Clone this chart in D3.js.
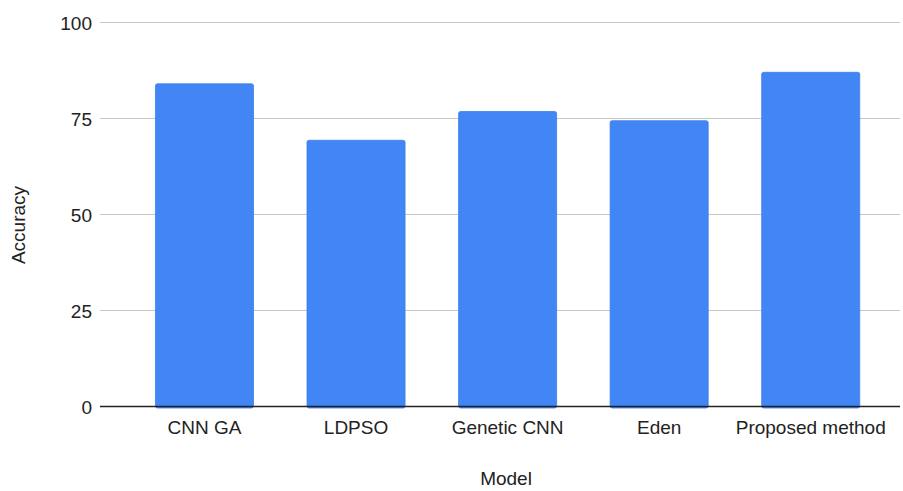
<!DOCTYPE html>
<html>
<head>
<meta charset="utf-8">
<script src="https://cdn.jsdelivr.net/npm/d3@7"></script>
<style>
  html, body { margin: 0; padding: 0; background: #fff; }
  svg { display: block; font-family: "Liberation Sans", Arial, sans-serif; }
</style>
</head>
<body>
<svg id="chart" width="903" height="491"></svg>
<script>
// Model accuracy comparison
const models = ["CNN GA", "LDPSO", "Genetic CNN", "Eden", "Proposed method"];
const accuracy = [83.9, 69.2, 76.7, 74.3, 86.9];
const yTicks = [0, 25, 50, 75, 100];

const svg = d3.select("#chart");
const fontSize = 19;

const gridLeft = 100, gridRight = 900;
const y = d3.scaleLinear().domain([0, 100]).range([406, 22]);
const x = d3.scaleBand()
  .domain(models)
  .range([128.7, 886.5])
  .paddingInner(0.353)
  .paddingOuter(0.1765);

// horizontal gridlines
svg.append("g")
  .selectAll("line")
  .data(yTicks.filter(t => t !== 0))
  .join("line")
  .attr("x1", gridLeft).attr("x2", gridRight)
  .attr("y1", d => y(d) + 0.5).attr("y2", d => y(d) + 0.5)
  .attr("stroke", "#c8c8c8").attr("stroke-width", 1);

// y tick labels
svg.append("g")
  .selectAll("text")
  .data(yTicks)
  .join("text")
  .attr("x", 92).attr("y", d => y(d) + 1)
  .attr("dy", "0.35em")
  .attr("text-anchor", "end")
  .attr("font-size", fontSize).attr("fill", "#222")
  .text(d => d);

// bars
svg.append("g")
  .selectAll("rect")
  .data(models.map((m, i) => ({ m, v: accuracy[i] })))
  .join("rect")
  .attr("x", d => x(d.m))
  .attr("y", d => y(d.v))
  .attr("width", x.bandwidth())
  .attr("height", d => y(0) - y(d.v) + 2)
  .attr("rx", 2).attr("ry", 2)
  .attr("fill", "#4285f4")
  .attr("stroke", "#3d7fe8").attr("stroke-width", 0.8);

// baseline
svg.append("line")
  .attr("x1", gridLeft).attr("x2", gridRight)
  .attr("y1", y(0) + 0.5).attr("y2", y(0) + 0.5)
  .attr("stroke", "#222").attr("stroke-width", 1.3);

// category labels
svg.append("g")
  .selectAll("text")
  .data(models)
  .join("text")
  .attr("x", d => x(d) + x.bandwidth() / 2)
  .attr("y", 434)
  .attr("text-anchor", "middle")
  .attr("font-size", fontSize).attr("fill", "#222")
  .text(d => d);

// axis titles
svg.append("text")
  .attr("x", 506).attr("y", 485)
  .attr("text-anchor", "middle")
  .attr("font-size", fontSize).attr("fill", "#222")
  .text("Model");

svg.append("text")
  .attr("transform", "translate(25,225) rotate(-90)")
  .attr("text-anchor", "middle")
  .attr("font-size", fontSize).attr("fill", "#222")
  .text("Accuracy");
</script>
</body>
</html>
